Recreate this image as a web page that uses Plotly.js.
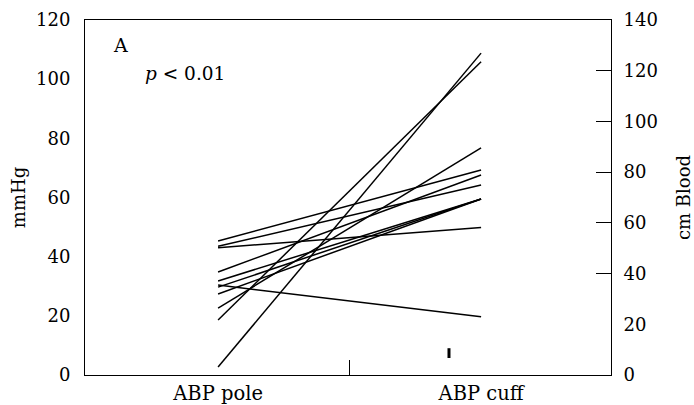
<!DOCTYPE html>
<html>
<head>
<meta charset="utf-8">
<script src="https://cdn.plot.ly/plotly-3.0.1.min.js"></script>
<style>html,body{margin:0;padding:0;background:#fff;}#chart{width:694px;height:405px;}</style>
</head>
<body>
<div id="chart"></div>
<script>
// categories (x positions 0 and 1)
const categories = ["ABP pole", "ABP cuff"];
// mmHg value at ABP pole and ABP cuff for each subject
const poleValues = [2.7, 18.6, 22.6, 30.4, 43.0, 45.3, 43.5, 34.8, 31.8, 29.7, 27.4];
const cuffValues = [108.8, 105.9, 76.8, 19.7, 49.9, 69.3, 64.2, 67.6, 59.5, 59.5, 59.5];
const leftTicks = [0, 20, 40, 60, 80, 100, 120];
const rightTicks = [0, 20, 40, 60, 80, 100, 120, 140];
const rightInnerTicks = [40, 60, 80, 100, 120];
const artifactX = [0.878];
const artifactY = [7.4];

const FONT = "DejaVu Serif";
const traces = [];
for (let i = 0; i < poleValues.length; i++) {
  traces.push({
    type: "scatter", mode: "lines",
    x: [0, 1], y: [poleValues[i], cuffValues[i]],
    line: {color: "#000", width: 1.5},
    hoverinfo: "skip", showlegend: false
  });
}
traces.push({
  type: "scatter", mode: "markers", x: artifactX, y: artifactY,
  marker: {symbol: "line-ns-open", size: 7, color: "#000", line: {color: "#000", width: 3}},
  showlegend: false, hoverinfo: "skip"
});
traces.push({type: "scatter", mode: "markers", x: [0], y: [0], yaxis: "y2", marker: {opacity: 0}, showlegend: false, hoverinfo: "skip"});
traces.push({type: "scatter", mode: "markers", x: [0], y: [0], yaxis: "y3", marker: {opacity: 0}, showlegend: false, hoverinfo: "skip"});
traces.push({type: "scatter", mode: "markers", x: [0], y: [0], xaxis: "x2", marker: {opacity: 0}, showlegend: false, hoverinfo: "skip"});

const layout = {
  width: 694, height: 405,
  margin: {l: 85, r: 83, t: 20, b: 30},
  paper_bgcolor: "#fff", plot_bgcolor: "#fff",
  font: {family: FONT, size: 18, color: "#000"},
  showlegend: false,
  xaxis: {
    range: [-0.506, 1.494], tickvals: [0, 1], ticktext: categories,
    ticks: "", showgrid: false, zeroline: false,
    showline: true, linecolor: "#000", linewidth: 1, mirror: true,
    tickfont: {family: FONT, size: 19.5, color: "#000"}, ticklabelstandoff: 1
  },
  xaxis2: {
    overlaying: "x", range: [-0.506, 1.494], tickvals: [0.5], showticklabels: false,
    ticks: "inside", ticklen: 15, tickcolor: "#000", tickwidth: 1,
    showgrid: false, zeroline: false, showline: false
  },
  yaxis: {
    range: [0, 120], tickvals: leftTicks, ticks: "", showgrid: false, zeroline: false,
    showline: true, linecolor: "#000", linewidth: 1,
    tickfont: {family: FONT, size: 18, color: "#000"}, ticklabelstandoff: 10,
    title: {text: "mmHg", font: {family: FONT, size: 18, color: "#000"}, standoff: 5}
  },
  yaxis2: {
    overlaying: "y", side: "right", range: [0, 140], tickvals: rightTicks,
    ticks: "", showgrid: false, zeroline: false,
    showline: true, linecolor: "#000", linewidth: 1,
    tickfont: {family: FONT, size: 18, color: "#000"}, ticklabelstandoff: 8,
    title: {text: "cm Blood", font: {family: FONT, size: 18, color: "#000"}, standoff: 20}
  },
  yaxis3: {
    overlaying: "y", side: "right", range: [0, 140], tickvals: rightInnerTicks,
    showticklabels: false, ticks: "inside", ticklen: 15, tickcolor: "#000", tickwidth: 1,
    showgrid: false, zeroline: false, showline: false
  },
  annotations: [
    {xref: "paper", yref: "paper", x: 0.049, y: 0.93, xanchor: "left", yanchor: "middle",
     text: "A", showarrow: false, font: {family: FONT, size: 19, color: "#000"}},
    {xref: "paper", yref: "paper", x: 0.11, y: 0.85, xanchor: "left", yanchor: "middle",
     text: "<i>p</i> < 0.01", showarrow: false, font: {family: FONT, size: 18.5, color: "#000"}}
  ]
};
Plotly.newPlot("chart", traces, layout, {displayModeBar: false, staticPlot: true});
</script>
</body>
</html>
